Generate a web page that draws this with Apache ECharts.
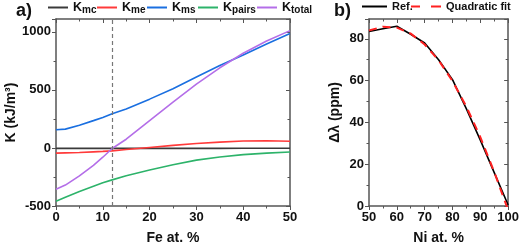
<!DOCTYPE html>
<html><head><meta charset="utf-8">
<script src="https://cdn.jsdelivr.net/npm/echarts@6/dist/echarts.min.js"></script>
<style>html,body{margin:0;padding:0;background:#fff}#c{width:522px;height:250px}</style>
</head><body><div id="c"></div>
<script>
// Panel a data
var feX    = [0, 2, 5, 8, 10, 12, 15, 20, 25, 30, 35, 40, 45, 50];
var kmc    = [-4, -4, -4, -4, -4, -4, -4, -4, -4, -4, -4, -3, -3, -3];
var kme    = [-45, -43, -40, -34, -30, -25, -14, 4, 22, 38, 50, 60, 62, 58];
var kms    = [157, 162, 195, 235, 262, 294, 335, 420, 510, 610, 710, 800, 895, 985];
var kpairs = [-460, -425, -375, -330, -300, -275, -240, -190, -145, -105, -78, -58, -45, -35];
var ktotal = [-355, -320, -240, -150, -80, -5, 75, 235, 395, 550, 690, 815, 920, 1010];
var seriesNamesA = ['mc', 'me', 'ms', 'pairs', 'total'];
var feTicks = [0, 10, 20, 30, 40, 50];
var kTicks = [-500, 0, 500, 1000];
var dashX = 12;
// Panel b data
var niX   = [50, 55, 60, 65, 70, 75, 80, 85, 90, 95, 100];
var ref   = [83.5, 84.8, 86, 82.2, 78, 70, 60.5, 46.5, 31.5, 16, 0.5];
var fit   = [84, 85.8, 85.4, 82.5, 77.3, 69.8, 59.8, 47.5, 33, 16.3, -2];
var seriesNamesB = ['Ref.', 'Quadratic fit'];
var niTicks = [50, 60, 70, 80, 90, 100];
var dlTicks = [0, 20, 40, 60, 80];

function pairs(xs, ys){ return xs.map(function(x,i){ return [x, ys[i]]; }); }
var FONT = '"Liberation Sans", Arial, sans-serif';
var AX = '#555';
function fmt(list){ return function(v){ return list.indexOf(v) >= 0 ? String(v) : ''; }; }

function mainX(grid, min, max, interval, ticks, name, nameGap){
  return {type:'value', gridIndex:grid, min:min, max:max, interval:interval, position:'bottom',
    name:name, nameLocation:'middle', nameGap:nameGap,
    nameTextStyle:{fontFamily:FONT, fontWeight:'bold', fontSize:14, color:'#111'},
    axisLine:{show:true, onZero:false, lineStyle:{color:AX, width:1.5}},
    axisTick:{show:true, inside:false, length:4, lineStyle:{color:AX, width:1}},
    minorTick:{show:true, splitNumber:2, length:2.5, lineStyle:{color:AX}},
    axisLabel:{fontFamily:FONT, fontWeight:'bold', fontSize:13, color:'#111', margin:5, formatter:fmt(ticks)},
    splitLine:{show:false}};
}
function mirrorX(grid, min, max, interval){
  return {type:'value', gridIndex:grid, min:min, max:max, interval:interval, position:'top',
    axisLine:{show:true, onZero:false, lineStyle:{color:AX, width:1.5}},
    axisTick:{show:true, inside:true, length:4, lineStyle:{color:AX}},
    minorTick:{show:true, splitNumber:2, length:2.5, lineStyle:{color:AX}},
    axisLabel:{show:false}, splitLine:{show:false}};
}
function mainY(grid, min, max, interval, ticks, name, nameGap){
  return {type:'value', gridIndex:grid, min:min, max:max, interval:interval, position:'left',
    name:name, nameLocation:'middle', nameGap:nameGap, nameRotate:90,
    nameTextStyle:{fontFamily:FONT, fontWeight:'bold', fontSize:14, color:'#111'},
    axisLine:{show:true, onZero:false, lineStyle:{color:AX, width:1.5}},
    axisTick:{show:true, inside:false, length:4, lineStyle:{color:AX}},
    minorTick:{show:true, splitNumber:2, length:2.5, lineStyle:{color:AX}},
    axisLabel:{fontFamily:FONT, fontWeight:'bold', fontSize:13, color:'#111', margin:5, formatter:fmt(ticks)},
    splitLine:{show:false}};
}
function mirrorY(grid, min, max, interval){
  return {type:'value', gridIndex:grid, min:min, max:max, interval:interval, position:'right',
    axisLine:{show:true, onZero:false, lineStyle:{color:AX, width:1.5}},
    axisTick:{show:true, inside:true, length:4, lineStyle:{color:AX}},
    minorTick:{show:true, splitNumber:2, length:2.5, lineStyle:{color:AX}},
    axisLabel:{show:false}, splitLine:{show:false}};
}

var chart = echarts.init(document.getElementById('c'), null, {renderer:'canvas'});
var colorsA = ['#3a3a3a', '#ff3a3a', '#1a6fe0', '#2db36a', '#b46ee8'];
function line(name, xs, ys, color, xi, yi, dashed){
  return {name:name, type:'line', xAxisIndex:xi, yAxisIndex:yi, data:pairs(xs, ys),
    showSymbol:false, symbol:'none', smooth:false, clip:true,
    lineStyle:{color:color, width:1.6, type: dashed ? [8,6] : 'solid'},
    itemStyle:{color:color}};
}
var valsA = [kmc, kme, kms, kpairs, ktotal];
var sa = seriesNamesA.map(function(n, i){ return line(n, feX, valsA[i], colorsA[i], 0, 0); });
sa[0].markLine = {silent:true, symbol:'none', label:{show:false},
  lineStyle:{color:'#777', type:[4,3], width:1.2}, data:[{xAxis:dashX}]};
var sb = [
  line(seriesNamesB[0], niX, ref, '#000', 2, 2),
  line(seriesNamesB[1], niX, fit, '#ff2020', 2, 2, true)
];
sb[1].lineStyle.width = 2;

var legendRich = {k:{fontFamily:FONT, fontWeight:'bold', fontSize:12.5, color:'#111'},
                  s:{fontFamily:FONT, fontWeight:'bold', fontSize:10, color:'#111', padding:[6,0,0,0]}};
var solidIcon = 'path://M0,0h20v2h-20z';
var solidIconB = 'path://M0,0h25v2h-25z';
var dashIcon = 'path://M0,0h9v2h-9z M20,0h10v2h-10z';

var legendLeftA = [49, 98, 148, 199, 258];
var legends = seriesNamesA.map(function(n, i){
  return {data:[{name:n, icon:solidIcon}], left:legendLeftA[i] - 1, top:1, itemWidth:20, itemHeight:2,
    selectedMode:false, padding:[0,0,0,0],
    textStyle:{rich:legendRich}, formatter:function(nm){ return '{k|K}{s|'+nm+'}'; }};
});
legends.push({data:[{name:seriesNamesB[0], icon:solidIconB}], left:362, top:1, itemWidth:25, itemHeight:2,
  selectedMode:false, padding:[0,0,0,0],
  textStyle:{fontFamily:FONT, fontWeight:'bold', fontSize:11, color:'#111'}});
legends.push({data:[{name:seriesNamesB[1], icon:dashIcon}], left:411, top:1, itemWidth:30, itemHeight:2,
  selectedMode:false, padding:[0,0,0,0],
  textStyle:{fontFamily:FONT, fontWeight:'bold', fontSize:11, color:'#111'}});

chart.setOption({
  animation:false,
  backgroundColor:'#fff',
  grid:[{left:56, top:19, width:234, height:188},
        {left:369, top:19, width:146, height:189}],
  xAxis:[mainX(0, 0, 50, 10, feTicks, 'Fe at. %', 25), mirrorX(0, 0, 50, 10),
         mainX(1, 50, 100, 10, niTicks, 'Ni at. %', 25), mirrorX(1, 50, 100, 10)],
  yAxis:[mainY(0, -500, 1110, 500, kTicks, 'K (kJ/m³)', 38), mirrorY(0, -500, 1110, 500),
         mainY(1, 0, 89.5, 20, dlTicks, 'Δλ (ppm)', 27), mirrorY(1, 0, 89.5, 20)],
  legend: legends,
  graphic:[
    {type:'text', left:16, top:2, style:{text:'a)', font:'bold 18px '+FONT, fill:'#111'}},
    {type:'text', left:334, top:2, style:{text:'b)', font:'bold 18px '+FONT, fill:'#111'}}
  ],
  series: sa.concat(sb)
});
</script></body></html>
